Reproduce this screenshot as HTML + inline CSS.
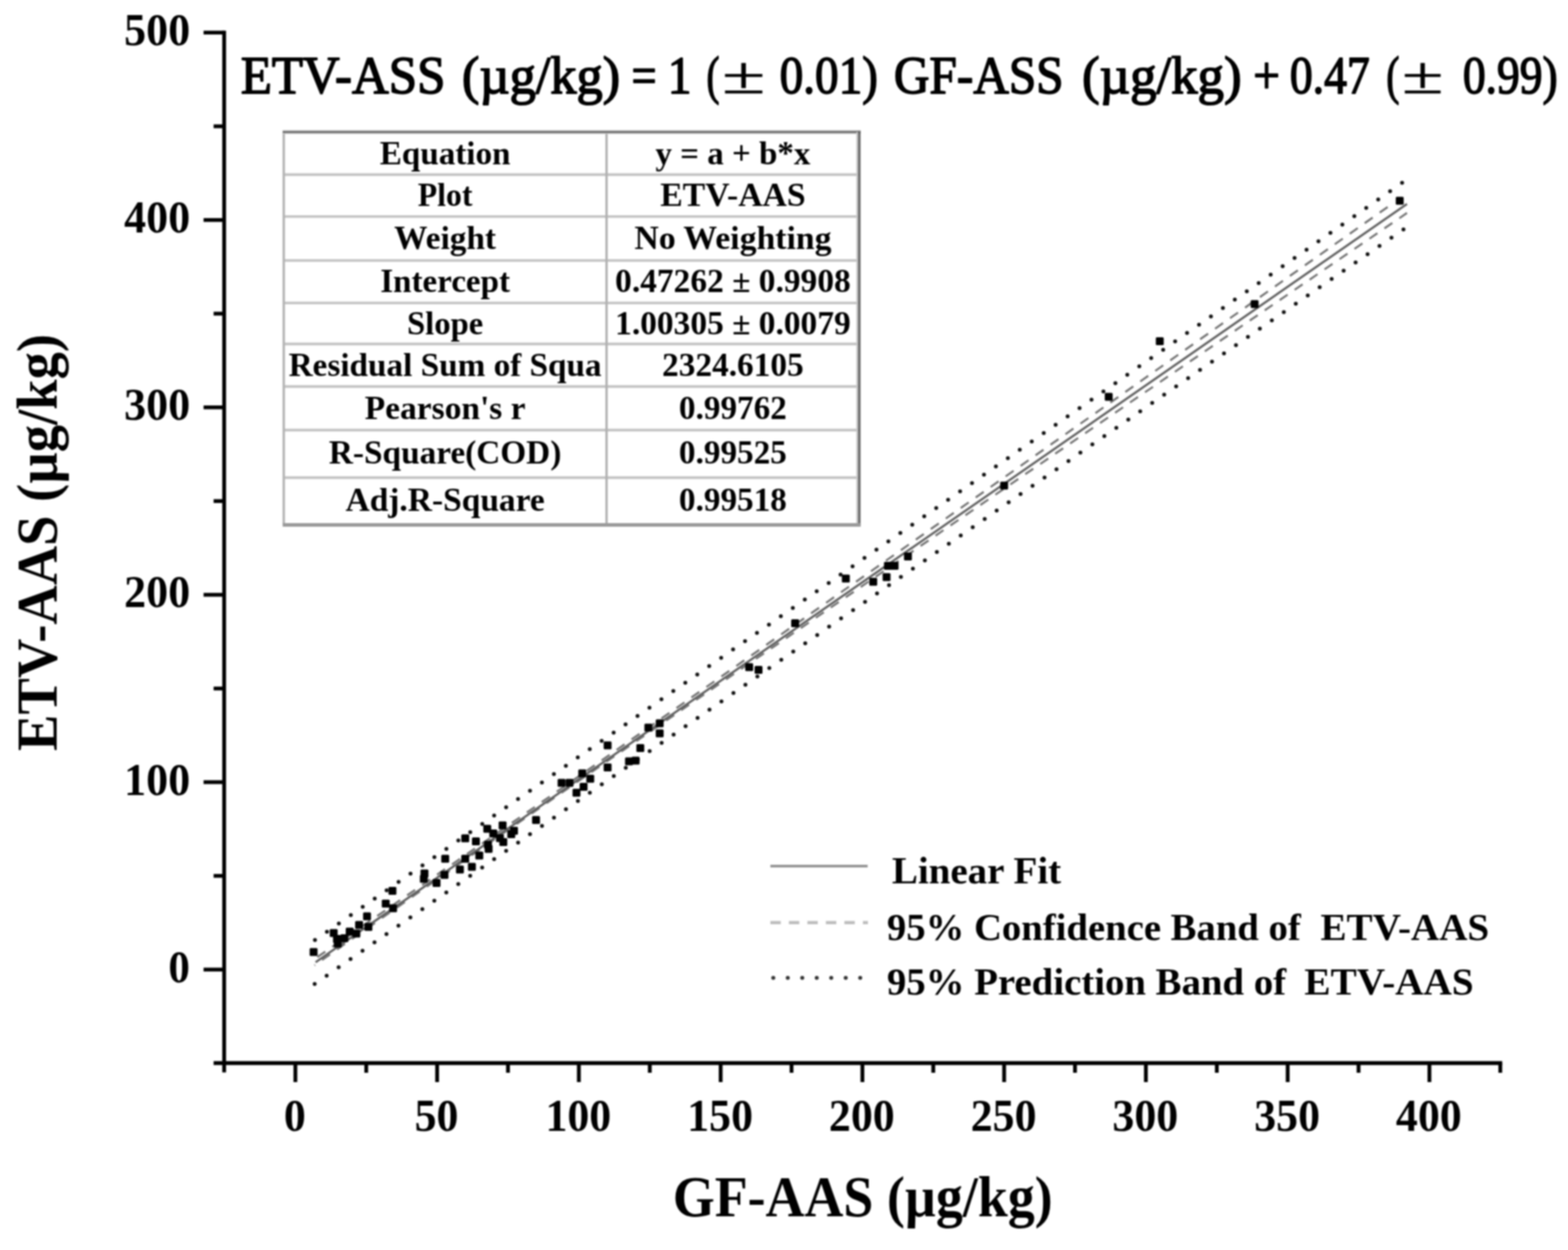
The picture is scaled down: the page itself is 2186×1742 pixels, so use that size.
<!DOCTYPE html>
<html lang="en"><head><meta charset="utf-8"><title>ETV-AAS vs GF-AAS linear fit</title>
<style>html,body{margin:0;padding:0;background:#fff;}body{width:2186px;height:1742px;overflow:hidden;}svg{display:block;filter:blur(0.8px);}text{font-family:"Liberation Serif","DejaVu Serif",serif;font-weight:bold;fill:#000;}.tk{font-size:63px;}.ax{font-size:81px;}.lg{font-size:52.5px;}.tb{font-size:46px;text-anchor:middle;}.tt{font-size:74px;font-weight:normal;stroke:#000;stroke-width:2.1px;stroke-linejoin:round;}</style></head><body>
<svg width="2186" height="1742" viewBox="0 0 2186 1742" role="img" aria-label="Scatter plot of ETV-AAS versus GF-AAS with linear fit">
<rect width="2186" height="1742" fill="#fff"/>
<g stroke="#000" stroke-width="5.3" fill="none" stroke-linecap="butt">
<line x1="312.5" y1="42.75" x2="312.5" y2="1494.5"/>
<line x1="297.8" y1="1481.5" x2="2094.26" y2="1481.5"/>
<line x1="283.8" y1="1351.2" x2="312.5" y2="1351.2"/>
<line x1="283.8" y1="1090.0" x2="312.5" y2="1090.0"/>
<line x1="283.8" y1="828.9" x2="312.5" y2="828.9"/>
<line x1="283.8" y1="567.7" x2="312.5" y2="567.7"/>
<line x1="283.8" y1="306.6" x2="312.5" y2="306.6"/>
<line x1="283.8" y1="45.4" x2="312.5" y2="45.4"/>
<line x1="297.8" y1="1220.6" x2="312.5" y2="1220.6"/>
<line x1="297.8" y1="959.5" x2="312.5" y2="959.5"/>
<line x1="297.8" y1="698.3" x2="312.5" y2="698.3"/>
<line x1="297.8" y1="437.1" x2="312.5" y2="437.1"/>
<line x1="297.8" y1="176.0" x2="312.5" y2="176.0"/>
<line x1="411.8" y1="1481.5" x2="411.8" y2="1508"/>
<line x1="609.4" y1="1481.5" x2="609.4" y2="1508"/>
<line x1="807.0" y1="1481.5" x2="807.0" y2="1508"/>
<line x1="1004.7" y1="1481.5" x2="1004.7" y2="1508"/>
<line x1="1202.3" y1="1481.5" x2="1202.3" y2="1508"/>
<line x1="1399.9" y1="1481.5" x2="1399.9" y2="1508"/>
<line x1="1597.5" y1="1481.5" x2="1597.5" y2="1508"/>
<line x1="1795.2" y1="1481.5" x2="1795.2" y2="1508"/>
<line x1="1992.8" y1="1481.5" x2="1992.8" y2="1508"/>
<line x1="510.6" y1="1481.5" x2="510.6" y2="1495"/>
<line x1="708.2" y1="1481.5" x2="708.2" y2="1495"/>
<line x1="905.9" y1="1481.5" x2="905.9" y2="1495"/>
<line x1="1103.5" y1="1481.5" x2="1103.5" y2="1495"/>
<line x1="1301.1" y1="1481.5" x2="1301.1" y2="1495"/>
<line x1="1498.7" y1="1481.5" x2="1498.7" y2="1495"/>
<line x1="1696.4" y1="1481.5" x2="1696.4" y2="1495"/>
<line x1="1894.0" y1="1481.5" x2="1894.0" y2="1495"/>
<line x1="2091.6" y1="1481.5" x2="2091.6" y2="1495"/>
</g>
<g class="tk">
<text x="234.7" y="1368.7" textLength="30" lengthAdjust="spacingAndGlyphs">0</text>
<text x="173.1" y="1107.5" textLength="92" lengthAdjust="spacingAndGlyphs">100</text>
<text x="173.1" y="846.4" textLength="92" lengthAdjust="spacingAndGlyphs">200</text>
<text x="173.1" y="585.2" textLength="92" lengthAdjust="spacingAndGlyphs">300</text>
<text x="173.1" y="324.1" textLength="92" lengthAdjust="spacingAndGlyphs">400</text>
<text x="173.1" y="62.9" textLength="92" lengthAdjust="spacingAndGlyphs">500</text>
<text x="395.7" y="1576" textLength="30.6" lengthAdjust="spacingAndGlyphs">0</text>
<text x="578.0" y="1576" textLength="61.2" lengthAdjust="spacingAndGlyphs">50</text>
<text x="760.4" y="1576" textLength="91.8" lengthAdjust="spacingAndGlyphs">100</text>
<text x="958.0" y="1576" textLength="91.8" lengthAdjust="spacingAndGlyphs">150</text>
<text x="1155.6" y="1576" textLength="91.8" lengthAdjust="spacingAndGlyphs">200</text>
<text x="1353.2" y="1576" textLength="91.8" lengthAdjust="spacingAndGlyphs">250</text>
<text x="1550.8" y="1576" textLength="91.8" lengthAdjust="spacingAndGlyphs">300</text>
<text x="1748.5" y="1576" textLength="91.8" lengthAdjust="spacingAndGlyphs">350</text>
<text x="1946.1" y="1576" textLength="91.8" lengthAdjust="spacingAndGlyphs">400</text>
</g>
<text class="ax" x="938" y="1694.5" textLength="529.5" lengthAdjust="spacingAndGlyphs">GF-AAS (µg/kg)</text>
<text class="ax" transform="translate(78.5,1046.5) rotate(-90)" x="0" y="0" textLength="581" lengthAdjust="spacingAndGlyphs">ETV-AAS (µg/kg)</text>
<text class="tt" y="129.5"><tspan x="335.7" textLength="285.2" lengthAdjust="spacingAndGlyphs">ETV-ASS</tspan> <tspan x="644.1" textLength="220.4" lengthAdjust="spacingAndGlyphs">(µg/kg)</tspan> <tspan x="880.6" textLength="34.8" lengthAdjust="spacingAndGlyphs">=</tspan> <tspan x="931.0" textLength="33.0" lengthAdjust="spacingAndGlyphs">1</tspan> <tspan x="985.0" textLength="18.0" lengthAdjust="spacingAndGlyphs">(</tspan> <tspan x="1006.5" textLength="60.5" lengthAdjust="spacingAndGlyphs" style="stroke-width:0.5px">±</tspan> <tspan x="1087.0" textLength="136.9" lengthAdjust="spacingAndGlyphs">0.01)</tspan> <tspan x="1246.3" textLength="236.5" lengthAdjust="spacingAndGlyphs">GF-ASS</tspan> <tspan x="1508.4" textLength="222.6" lengthAdjust="spacingAndGlyphs">(µg/kg)</tspan> <tspan x="1747.2" textLength="37.1" lengthAdjust="spacingAndGlyphs">+</tspan> <tspan x="1798.2" textLength="111.4" lengthAdjust="spacingAndGlyphs">0.47</tspan> <tspan x="1932.8" textLength="18.2" lengthAdjust="spacingAndGlyphs">(</tspan> <tspan x="1954.5" textLength="58.0" lengthAdjust="spacingAndGlyphs" style="stroke-width:0.5px">±</tspan> <tspan x="2039.4" textLength="132.2" lengthAdjust="spacingAndGlyphs">0.99)</tspan> </text>
<g fill="none">
<rect x="395.6" y="184" width="802.4" height="547.4" fill="#fff" stroke="none"/>
<line x1="395.6" y1="243.4" x2="1198" y2="243.4" stroke="#c2c2c2" stroke-width="3.6"/>
<line x1="395.6" y1="301.8" x2="1198" y2="301.8" stroke="#c2c2c2" stroke-width="3.6"/>
<line x1="395.6" y1="363" x2="1198" y2="363" stroke="#c2c2c2" stroke-width="3.6"/>
<line x1="395.6" y1="422.2" x2="1198" y2="422.2" stroke="#c2c2c2" stroke-width="3.6"/>
<line x1="395.6" y1="479.4" x2="1198" y2="479.4" stroke="#c2c2c2" stroke-width="3.6"/>
<line x1="395.6" y1="538.6" x2="1198" y2="538.6" stroke="#c2c2c2" stroke-width="3.6"/>
<line x1="395.6" y1="599.4" x2="1198" y2="599.4" stroke="#c2c2c2" stroke-width="3.6"/>
<line x1="395.6" y1="665.6" x2="1198" y2="665.6" stroke="#c2c2c2" stroke-width="3.6"/>
<line x1="845.6" y1="184" x2="845.6" y2="731.4" stroke="#b0b0b0" stroke-width="3.2"/>
<line x1="395.6" y1="184" x2="395.6" y2="731.4" stroke="#b4b4b4" stroke-width="3.4"/>
<line x1="394.1" y1="184" x2="1200" y2="184" stroke="#c8c8c8" stroke-width="5.6"/>
<line x1="394.1" y1="184" x2="1200" y2="184" stroke="#666" stroke-width="2.6"/>
<line x1="1195" y1="184" x2="1195" y2="731.4" stroke="#c8c8c8" stroke-width="2.4"/>
<line x1="1198" y1="182.7" x2="1198" y2="733.4" stroke="#666" stroke-width="3.4"/>
<line x1="394.1" y1="731.4" x2="1199.7" y2="731.4" stroke="#9a9a9a" stroke-width="5"/>
</g>
<g class="tb">
<text x="620.6" y="228.7" textLength="182.0" lengthAdjust="spacingAndGlyphs">Equation</text>
<text x="1021.8" y="228.7" textLength="216.0" lengthAdjust="spacingAndGlyphs">y = a + b*x</text>
<text x="620.6" y="287.4" textLength="76.0" lengthAdjust="spacingAndGlyphs">Plot</text>
<text x="1021.8" y="287.4" textLength="202.6" lengthAdjust="spacingAndGlyphs">ETV-AAS</text>
<text x="620.6" y="347.2" textLength="142.0" lengthAdjust="spacingAndGlyphs">Weight</text>
<text x="1021.8" y="347.2" textLength="274.7" lengthAdjust="spacingAndGlyphs">No Weighting</text>
<text x="620.6" y="407.4" textLength="180.8" lengthAdjust="spacingAndGlyphs">Intercept</text>
<text x="1021.8" y="407.4" textLength="328.4" lengthAdjust="spacingAndGlyphs">0.47262 ± 0.9908</text>
<text x="620.6" y="465.6" textLength="106.0" lengthAdjust="spacingAndGlyphs">Slope</text>
<text x="1021.8" y="465.6" textLength="328.4" lengthAdjust="spacingAndGlyphs">1.00305 ± 0.0079</text>
<text x="620.6" y="523.8" textLength="436.4" lengthAdjust="spacingAndGlyphs">Residual Sum of Squa</text>
<text x="1021.8" y="523.8" textLength="197.5" lengthAdjust="spacingAndGlyphs">2324.6105</text>
<text x="620.6" y="583.8" textLength="224.0" lengthAdjust="spacingAndGlyphs">Pearson's r</text>
<text x="1021.8" y="583.8" textLength="150.4" lengthAdjust="spacingAndGlyphs">0.99762</text>
<text x="620.6" y="646.1" textLength="324.0" lengthAdjust="spacingAndGlyphs">R-Square(COD)</text>
<text x="1021.8" y="646.1" textLength="150.4" lengthAdjust="spacingAndGlyphs">0.99525</text>
<text x="620.6" y="712.3" textLength="277.8" lengthAdjust="spacingAndGlyphs">Adj.R-Square</text>
<text x="1021.8" y="712.3" textLength="150.4" lengthAdjust="spacingAndGlyphs">0.99518</text>
</g>
<g fill="none">
<path d="M1923.5,296.3 L1934.6,288.5 M1902.6,311.0 L1913.7,303.2 M1881.8,325.7 L1892.9,317.9 M1860.9,340.4 L1872.0,332.6 M1840.1,355.1 L1851.2,347.3 M1819.2,369.8 L1830.3,362.0 M1798.3,384.5 L1809.4,376.7 M1777.5,399.3 L1788.6,391.4 M1756.6,414.0 L1767.7,406.1 M1735.8,428.7 L1746.9,420.8 M1714.9,443.4 L1726.0,435.6 M1694.0,458.1 L1705.1,450.3 M1673.2,472.8 L1684.3,465.0 M1652.3,487.5 L1663.4,479.7 M1631.5,502.2 L1642.6,494.4 M1610.6,516.9 L1621.7,509.1 M1589.7,531.6 L1600.8,523.8 M1568.9,546.3 L1580.0,538.5 M1548.0,561.0 L1559.1,553.2 M1527.2,575.7 L1538.3,567.9 M1506.3,590.4 L1517.4,582.6 M1485.4,605.1 L1496.5,597.3 M1464.6,619.8 L1475.7,612.0 M1443.7,634.5 L1454.8,626.7 M1422.9,649.2 L1434.0,641.4 M1402.0,663.9 L1413.1,656.1 M1381.1,678.6 L1392.2,670.8 M1360.3,693.3 L1371.4,685.5 M1339.4,708.0 L1350.5,700.1 M1318.6,722.6 L1329.7,714.8 M1297.7,737.3 L1308.8,729.5 M1276.8,752.0 L1287.9,744.2 M1256.0,766.7 L1267.1,758.9 M1235.1,781.4 L1246.2,773.6 M1214.3,796.1 L1225.4,788.3 M1193.4,810.8 L1204.5,803.0 M1172.5,825.4 L1183.6,817.6 M1151.7,840.1 L1162.8,832.3 M1130.8,854.8 L1141.9,847.0 M1110.0,869.5 L1121.1,861.7 M1089.1,884.1 L1100.2,876.3 M1068.2,898.8 L1079.3,891.0 M1047.4,913.5 L1058.5,905.7 M1026.5,928.1 L1037.6,920.3 M1005.7,942.8 L1016.8,935.0 M984.8,957.4 L995.9,949.6 M963.9,972.0 L975.0,964.3 M943.1,986.7 L954.2,978.9 M922.2,1001.3 L933.3,993.5 M901.4,1015.9 L912.5,1008.1 M880.5,1030.5 L891.6,1022.7 M859.6,1045.1 L870.7,1037.3 M838.8,1059.7 L849.9,1051.9 M817.9,1074.2 L829.0,1066.5 M797.1,1088.8 L808.2,1081.0 M776.2,1103.3 L787.3,1095.6 M755.3,1117.8 L766.4,1110.1 M734.5,1132.3 L745.6,1124.6 M713.6,1146.8 L724.7,1139.1 M692.8,1161.3 L703.9,1153.6 M671.9,1175.7 L683.0,1168.1 M651.0,1190.2 L662.1,1182.5 M630.2,1204.6 L641.3,1196.9 M609.3,1219.0 L620.4,1211.3 M588.5,1233.4 L599.6,1225.7 M567.6,1247.8 L578.7,1240.1 M546.7,1262.1 L557.8,1254.5 M525.9,1276.5 L537.0,1268.9 M505.0,1290.8 L516.1,1283.2 M484.2,1305.2 L495.3,1297.6 M463.3,1319.5 L474.4,1311.9 M442.4,1333.8 L453.5,1326.2" stroke="#747474" stroke-width="2.9"/>
<path d="M1950.9,304.1 L1961.5,296.8 M1930.1,318.3 L1941.1,310.7 M1909.2,332.6 L1920.3,325.0 M1888.3,346.9 L1899.4,339.3 M1867.5,361.1 L1878.6,353.5 M1846.6,375.4 L1857.7,367.8 M1825.8,389.7 L1836.8,382.1 M1804.9,403.9 L1816.0,396.3 M1784.0,418.2 L1795.1,410.6 M1763.2,432.5 L1774.3,424.9 M1742.3,446.7 L1753.4,439.2 M1721.5,461.0 L1732.5,453.4 M1700.6,475.3 L1711.7,467.7 M1679.7,489.6 L1690.8,482.0 M1658.9,503.8 L1670.0,496.2 M1638.0,518.1 L1649.1,510.5 M1617.2,532.4 L1628.2,524.8 M1596.3,546.6 L1607.4,539.1 M1575.4,560.9 L1586.5,553.3 M1554.6,575.2 L1565.7,567.6 M1533.7,589.5 L1544.8,581.9 M1512.9,603.7 L1523.9,596.1 M1492.0,618.0 L1503.1,610.4 M1471.1,632.3 L1482.2,624.7 M1450.3,646.6 L1461.4,639.0 M1429.4,660.8 L1440.5,653.3 M1408.6,675.1 L1419.6,667.5 M1387.7,689.4 L1398.8,681.8 M1366.8,703.7 L1377.9,696.1 M1346.0,718.0 L1357.1,710.4 M1325.1,732.2 L1336.2,724.6 M1304.3,746.5 L1315.3,738.9 M1283.4,760.8 L1294.5,753.2 M1262.5,775.1 L1273.6,767.5 M1241.7,789.4 L1252.8,781.8 M1220.8,803.7 L1231.9,796.1 M1200.0,818.0 L1211.0,810.4 M1179.1,832.3 L1190.2,824.7 M1158.2,846.6 L1169.3,839.0 M1137.4,860.9 L1148.5,853.3 M1116.5,875.2 L1127.6,867.6 M1095.7,889.5 L1106.7,881.9 M1074.8,903.8 L1085.9,896.2 M1053.9,918.1 L1065.0,910.5 M1033.1,932.4 L1044.2,924.8 M1012.2,946.7 L1023.3,939.1 M991.4,961.1 L1002.4,953.4 M970.5,975.4 L981.6,967.8 M949.6,989.7 L960.7,982.1 M928.8,1004.1 L939.9,996.5 M907.9,1018.5 L919.0,1010.8 M887.1,1032.8 L898.1,1025.2 M866.2,1047.2 L877.3,1039.6 M845.3,1061.6 L856.4,1053.9 M824.5,1076.0 L835.6,1068.3 M803.6,1090.4 L814.7,1082.8 M782.8,1104.9 L793.8,1097.2 M761.9,1119.3 L773.0,1111.6 M741.0,1133.8 L752.1,1126.1 M720.2,1148.3 L731.3,1140.6 M699.3,1162.8 L710.4,1155.1 M678.5,1177.3 L689.5,1169.6 M657.6,1191.8 L668.7,1184.1 M636.7,1206.4 L647.8,1198.6 M615.9,1220.9 L627.0,1213.2 M595.0,1235.5 L606.1,1227.8 M574.2,1250.1 L585.2,1242.4 M553.3,1264.7 L564.4,1257.0 M532.4,1279.3 L543.5,1271.6 M511.6,1294.0 L522.7,1286.2 M490.7,1308.6 L501.8,1300.8 M469.9,1323.2 L480.9,1315.4 M449.0,1337.9 L460.1,1330.1 M438.5,1345.2 L439.2,1344.7" stroke="#747474" stroke-width="2.9"/>
<path d="M440.0,1340.9 L1961.5,284.2" stroke="#606060" stroke-width="3.1"/>
<path d="M439.1,1310.0h0M455.8,1298.4h0M472.4,1286.9h0M489.1,1275.3h0M505.7,1263.8h0M522.4,1252.2h0M539.0,1240.7h0M555.7,1229.1h0M572.3,1217.5h0M589.0,1206.0h0M605.6,1194.4h0M622.3,1182.9h0M639.0,1171.3h0M655.6,1159.7h0M672.3,1148.2h0M688.9,1136.6h0M705.6,1125.1h0M722.2,1113.5h0M738.9,1101.9h0M755.5,1090.4h0M772.2,1078.8h0M788.9,1067.2h0M805.5,1055.6h0M822.2,1044.1h0M838.8,1032.5h0M855.5,1020.9h0M872.1,1009.4h0M888.8,997.8h0M905.4,986.2h0M922.1,974.6h0M938.7,963.0h0M955.4,951.5h0M972.1,939.9h0M988.7,928.3h0M1005.4,916.7h0M1022.0,905.1h0M1038.7,893.5h0M1055.3,881.9h0M1072.0,870.4h0M1088.6,858.8h0M1105.3,847.2h0M1122.0,835.6h0M1138.6,824.0h0M1155.3,812.4h0M1171.9,800.8h0M1188.6,789.2h0M1205.2,777.6h0M1221.9,766.0h0M1238.5,754.4h0M1255.2,742.8h0M1271.8,731.2h0M1288.5,719.6h0M1305.2,708.0h0M1321.8,696.4h0M1338.5,684.8h0M1355.1,673.2h0M1371.8,661.6h0M1388.4,650.0h0M1405.1,638.4h0M1421.7,626.8h0M1438.4,615.2h0M1455.1,603.6h0M1471.7,591.9h0M1488.4,580.3h0M1505.0,568.7h0M1521.7,557.1h0M1538.3,545.5h0M1555.0,533.9h0M1571.6,522.2h0M1588.3,510.6h0M1604.9,499.0h0M1621.6,487.4h0M1638.3,475.8h0M1654.9,464.1h0M1671.6,452.5h0M1688.2,440.9h0M1704.9,429.3h0M1721.5,417.6h0M1738.2,406.0h0M1754.8,394.4h0M1771.5,382.8h0M1788.2,371.1h0M1804.8,359.5h0M1821.5,347.9h0M1838.1,336.2h0M1854.8,324.6h0M1871.4,313.0h0M1888.1,301.3h0M1904.7,289.7h0M1921.4,278.1h0M1938.0,266.4h0M1954.7,254.8h0" stroke="#111" stroke-width="5.5" stroke-linecap="round"/>
<path d="M438.7,1371.3h0M455.4,1359.7h0M472.1,1348.1h0M488.7,1336.5h0M505.4,1324.9h0M522.1,1313.3h0M538.8,1301.7h0M555.5,1290.1h0M572.1,1278.5h0M588.8,1266.9h0M605.5,1255.3h0M622.2,1243.7h0M638.9,1232.1h0M655.5,1220.5h0M672.2,1208.9h0M688.9,1197.3h0M705.6,1185.8h0M722.3,1174.2h0M738.9,1162.6h0M755.6,1151.0h0M772.3,1139.4h0M789.0,1127.8h0M805.7,1116.3h0M822.3,1104.7h0M839.0,1093.1h0M855.7,1081.5h0M872.4,1069.9h0M889.1,1058.4h0M905.7,1046.8h0M922.4,1035.2h0M939.1,1023.7h0M955.8,1012.1h0M972.5,1000.5h0M989.1,988.9h0M1005.8,977.4h0M1022.5,965.8h0M1039.2,954.2h0M1055.9,942.7h0M1072.5,931.1h0M1089.2,919.6h0M1105.9,908.0h0M1122.6,896.4h0M1139.3,884.9h0M1155.9,873.3h0M1172.6,861.8h0M1189.3,850.2h0M1206.0,838.7h0M1222.7,827.1h0M1239.4,815.5h0M1256.0,804.0h0M1272.7,792.4h0M1289.4,780.9h0M1306.1,769.3h0M1322.8,757.8h0M1339.4,746.3h0M1356.1,734.7h0M1372.8,723.2h0M1389.5,711.6h0M1406.2,700.1h0M1422.8,688.5h0M1439.5,677.0h0M1456.2,665.5h0M1472.9,653.9h0M1489.6,642.4h0M1506.2,630.8h0M1522.9,619.3h0M1539.6,607.8h0M1556.3,596.2h0M1573.0,584.7h0M1589.6,573.2h0M1606.3,561.6h0M1623.0,550.1h0M1639.7,538.6h0M1656.4,527.1h0M1673.0,515.5h0M1689.7,504.0h0M1706.4,492.5h0M1723.1,480.9h0M1739.8,469.4h0M1756.4,457.9h0M1773.1,446.4h0M1789.8,434.9h0M1806.5,423.3h0M1823.2,411.8h0M1839.8,400.3h0M1856.5,388.8h0M1873.2,377.3h0M1889.9,365.7h0M1906.6,354.2h0M1923.2,342.7h0M1939.9,331.2h0M1956.6,319.7h0" stroke="#111" stroke-width="5.5" stroke-linecap="round"/>
</g>
<g fill="#000">
<rect x="431.7" y="1321.3" width="11" height="11" rx="1.5"/>
<rect x="459.7" y="1294.7" width="11" height="11" rx="1.5"/>
<rect x="464.3" y="1303.1" width="11" height="11" rx="1.5"/>
<rect x="465.3" y="1309.6" width="11" height="11" rx="1.5"/>
<rect x="474.6" y="1302.1" width="11" height="11" rx="1.5"/>
<rect x="482.0" y="1292.8" width="11" height="11" rx="1.5"/>
<rect x="491.3" y="1295.6" width="11" height="11" rx="1.5"/>
<rect x="495.1" y="1283.5" width="11" height="11" rx="1.5"/>
<rect x="506.2" y="1271.4" width="11" height="11" rx="1.5"/>
<rect x="508.1" y="1286.3" width="11" height="11" rx="1.5"/>
<rect x="532.3" y="1253.7" width="11" height="11" rx="1.5"/>
<rect x="542.5" y="1260.2" width="11" height="11" rx="1.5"/>
<rect x="541.6" y="1236.0" width="11" height="11" rx="1.5"/>
<rect x="586.3" y="1211.8" width="11" height="11" rx="1.5"/>
<rect x="585.4" y="1219.3" width="11" height="11" rx="1.5"/>
<rect x="603.1" y="1224.9" width="11" height="11" rx="1.5"/>
<rect x="614.2" y="1213.7" width="11" height="11" rx="1.5"/>
<rect x="615.2" y="1191.3" width="11" height="11" rx="1.5"/>
<rect x="635.7" y="1206.2" width="11" height="11" rx="1.5"/>
<rect x="643.1" y="1191.3" width="11" height="11" rx="1.5"/>
<rect x="652.4" y="1202.5" width="11" height="11" rx="1.5"/>
<rect x="662.7" y="1186.7" width="11" height="11" rx="1.5"/>
<rect x="643.1" y="1162.8" width="11" height="11" rx="1.5"/>
<rect x="658.0" y="1167.1" width="11" height="11" rx="1.5"/>
<rect x="674.8" y="1171.8" width="11" height="11" rx="1.5"/>
<rect x="675.7" y="1177.4" width="11" height="11" rx="1.5"/>
<rect x="673.8" y="1149.4" width="11" height="11" rx="1.5"/>
<rect x="682.2" y="1156.0" width="11" height="11" rx="1.5"/>
<rect x="695.2" y="1144.8" width="11" height="11" rx="1.5"/>
<rect x="691.5" y="1162.5" width="11" height="11" rx="1.5"/>
<rect x="696.2" y="1168.1" width="11" height="11" rx="1.5"/>
<rect x="711.1" y="1152.2" width="11" height="11" rx="1.5"/>
<rect x="707.3" y="1156.9" width="11" height="11" rx="1.5"/>
<rect x="741.8" y="1137.3" width="11" height="11" rx="1.5"/>
<rect x="777.4" y="1085.4" width="11" height="11" rx="1.5"/>
<rect x="788.5" y="1085.4" width="11" height="11" rx="1.5"/>
<rect x="806.2" y="1072.3" width="11" height="11" rx="1.5"/>
<rect x="817.4" y="1079.8" width="11" height="11" rx="1.5"/>
<rect x="808.1" y="1091.0" width="11" height="11" rx="1.5"/>
<rect x="798.2" y="1099.3" width="11" height="11" rx="1.5"/>
<rect x="841.6" y="1033.2" width="11" height="11" rx="1.5"/>
<rect x="841.6" y="1064.0" width="11" height="11" rx="1.5"/>
<rect x="871.4" y="1055.6" width="11" height="11" rx="1.5"/>
<rect x="880.7" y="1054.6" width="11" height="11" rx="1.5"/>
<rect x="887.2" y="1037.0" width="11" height="11" rx="1.5"/>
<rect x="898.4" y="1008.5" width="11" height="11" rx="1.5"/>
<rect x="914.2" y="1002.5" width="11" height="11" rx="1.5"/>
<rect x="914.2" y="1016.5" width="11" height="11" rx="1.5"/>
<rect x="1039.0" y="924.3" width="11" height="11" rx="1.5"/>
<rect x="1052.0" y="928.0" width="11" height="11" rx="1.5"/>
<rect x="1103.0" y="863.1" width="11" height="11" rx="1.5"/>
<rect x="1173.7" y="800.7" width="11" height="11" rx="1.5"/>
<rect x="1211.9" y="805.3" width="11" height="11" rx="1.5"/>
<rect x="1230.5" y="798.8" width="11" height="11" rx="1.5"/>
<rect x="1232.4" y="783.0" width="11" height="11" rx="1.5"/>
<rect x="1241.7" y="783.0" width="11" height="11" rx="1.5"/>
<rect x="1260.3" y="770.0" width="11" height="11" rx="1.5"/>
<rect x="1394.4" y="671.3" width="11" height="11" rx="1.5"/>
<rect x="1540.2" y="547.6" width="11" height="11" rx="1.5"/>
<rect x="1611.4" y="469.9" width="11" height="11" rx="1.5"/>
<rect x="1743.6" y="418.3" width="11" height="11" rx="1.5"/>
<rect x="1945.9" y="274.2" width="11" height="11" rx="1.5"/>
</g>
<g fill="none">
<line x1="1074" y1="1207" x2="1209.6" y2="1207" stroke="#8c8c8c" stroke-width="3.6"/>
<line x1="1074" y1="1285.7" x2="1210" y2="1285.7" stroke="#bdbdbd" stroke-width="4.5" stroke-dasharray="14.5 11.3"/>
<line x1="1078" y1="1362.8" x2="1205" y2="1362.8" stroke="#333" stroke-width="5.5" stroke-linecap="round" stroke-dasharray="0.1 20.1"/>
</g>
<g class="lg">
<text x="1243.4" y="1230.5" textLength="236" lengthAdjust="spacingAndGlyphs">Linear Fit</text>
<text y="1309.5"><tspan x="1236.5" textLength="577" lengthAdjust="spacingAndGlyphs">95% Confidence Band of</tspan> <tspan x="1841" textLength="235" lengthAdjust="spacingAndGlyphs">ETV-AAS</tspan></text>
<text y="1386"><tspan x="1236.5" textLength="556.5" lengthAdjust="spacingAndGlyphs">95% Prediction Band of</tspan> <tspan x="1818.5" textLength="236" lengthAdjust="spacingAndGlyphs">ETV-AAS</tspan></text>
</g>
</svg></body></html>
